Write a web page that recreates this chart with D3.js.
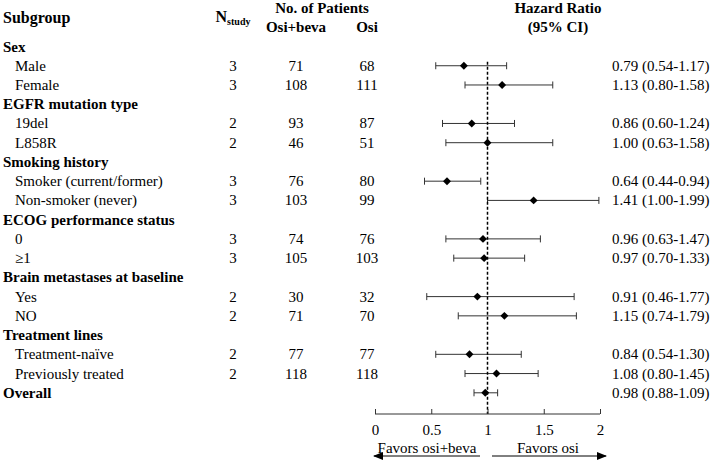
<!DOCTYPE html>
<html>
<head>
<meta charset="utf-8"/>
<title>Forest plot</title>
<script src="https://cdn.jsdelivr.net/npm/d3@7"></script>
<style>
	body { margin: 0; background: #fff; }
	svg text { font-family: "Liberation Serif", "Times New Roman", serif; font-size: 15px; fill: #000; }
	.bold { font-weight: bold; }
</style>
</head>
<body>
<div id="chart"></div>
<script>
// Rows of the table, top to bottom. Section headings have no numbers.
var labels = ["Sex", "Male", "Female", "EGFR mutation type", "19del", "L858R",
	"Smoking history", "Smoker (current/former)", "Non-smoker (never)",
	"ECOG performance status", "0", "\u22651",
	"Brain metastases at baseline", "Yes", "NO",
	"Treatment lines", "Treatment-na\u00efve", "Previously treated", "Overall"];
var heading = [1, 0, 0, 1, 0, 0, 1, 0, 0, 1, 0, 0, 1, 0, 0, 1, 0, 0, 1];
var nStudy   = [null, 3, 3, null, 2, 2, null, 3, 3, null, 3, 3, null, 2, 2, null, 2, 2, null];
var nOsiBeva = [null, 71, 108, null, 93, 46, null, 76, 103, null, 74, 105, null, 30, 71, null, 77, 118, null];
var nOsi     = [null, 68, 111, null, 87, 51, null, 80, 99, null, 76, 103, null, 32, 70, null, 77, 118, null];
var hr       = [null, 0.79, 1.13, null, 0.86, 1.00, null, 0.64, 1.41, null, 0.96, 0.97, null, 0.91, 1.15, null, 0.84, 1.08, 0.98];
var ciLow    = [null, 0.54, 0.80, null, 0.60, 0.63, null, 0.44, 1.00, null, 0.63, 0.70, null, 0.46, 0.74, null, 0.54, 0.80, 0.88];
var ciHigh   = [null, 1.17, 1.58, null, 1.24, 1.58, null, 0.94, 1.99, null, 1.47, 1.33, null, 1.77, 1.79, null, 1.30, 1.45, 1.09];
var ticks = [0, 0.5, 1, 1.5, 2];

var W = 713, H = 462;
var svg = d3.select("#chart").append("svg").attr("width", W).attr("height", H);

var rows = d3.range(labels.length);
var y = d3.scalePoint().domain(rows).range([46.5, 392.8]);
var x = d3.scaleLinear().domain([0, 2]).range([375, 600]);

var colN = 233, colOB = 296, colO = 367, colHR = 612;
var dy = 5; // baseline offset from row centre

// column headers
svg.append("text").attr("class", "bold").attr("x", 3).attr("y", 23)
	.style("font-size", "16px").text("Subgroup");
var ns = svg.append("text").attr("class", "bold").attr("x", colN).attr("y", 22)
	.attr("text-anchor", "middle");
ns.append("tspan").style("font-size", "16px").text("N");
ns.append("tspan").attr("dy", 3).style("font-size", "10px").text("study");
svg.append("text").attr("class", "bold").attr("x", 322).attr("y", 13)
	.attr("text-anchor", "middle").text("No. of Patients");
svg.append("text").attr("class", "bold").attr("x", colOB).attr("y", 32)
	.attr("text-anchor", "middle").text("Osi+beva");
svg.append("text").attr("class", "bold").attr("x", colO).attr("y", 32)
	.attr("text-anchor", "middle").text("Osi");
svg.append("text").attr("class", "bold").attr("x", 558).attr("y", 13)
	.attr("text-anchor", "middle").text("Hazard Ratio");
svg.append("text").attr("class", "bold").attr("x", 558).attr("y", 32)
	.attr("text-anchor", "middle").text("(95% CI)");

// row labels and counts
var g = svg.selectAll("g.row").data(rows).enter().append("g").attr("class", "row");
g.append("text")
	.attr("class", function(i) { return heading[i] ? "bold" : null; })
	.attr("x", function(i) { return heading[i] ? 3 : 15; })
	.attr("y", function(i) { return y(i) + dy; })
	.text(function(i) { return labels[i]; });

function col(arr, cx) {
	g.filter(function(i) { return arr[i] != null; }).append("text")
		.attr("x", cx).attr("y", function(i) { return y(i) + dy; })
		.attr("text-anchor", "middle")
		.text(function(i) { return arr[i]; });
}
col(nStudy, colN);
col(nOsiBeva, colOB);
col(nOsi, colO);

var f2 = d3.format(".2f");
g.filter(function(i) { return hr[i] != null; }).append("text")
	.attr("x", colHR).attr("y", function(i) { return y(i) + dy; })
	.text(function(i) { return f2(hr[i]) + " (" + f2(ciLow[i]) + "-" + f2(ciHigh[i]) + ")"; });

// reference line at HR = 1
var axisY = 414;
svg.append("line")
	.attr("x1", x(1)).attr("x2", x(1))
	.attr("y1", y(1) - 4).attr("y2", axisY)
	.attr("stroke", "#000").attr("stroke-width", 1.5).attr("stroke-dasharray", "3,2");

// confidence intervals
var est = g.filter(function(i) { return hr[i] != null; });
est.append("line")
	.attr("x1", function(i) { return x(ciLow[i]); })
	.attr("x2", function(i) { return x(ciHigh[i]); })
	.attr("y1", function(i) { return y(i); }).attr("y2", function(i) { return y(i); })
	.attr("stroke", "#333").attr("stroke-width", 1);
[ciLow, ciHigh].forEach(function(arr) {
	est.append("line")
		.attr("x1", function(i) { return x(arr[i]); })
		.attr("x2", function(i) { return x(arr[i]); })
		.attr("y1", function(i) { return y(i) - 3.5; })
		.attr("y2", function(i) { return y(i) + 3.5; })
		.attr("stroke", "#333").attr("stroke-width", 1);
});
est.append("path")
	.attr("d", d3.symbol().type(d3.symbolDiamond2).size(40))
	.attr("transform", function(i) { return "translate(" + x(hr[i]) + "," + y(i) + ")"; })
	.attr("fill", "#000");

// x axis, ticks pointing up
var ax = svg.append("g").attr("transform", "translate(0," + axisY + ")")
	.call(d3.axisTop(x).tickValues(ticks).tickSize(5).tickFormat(d3.format("")));
ax.select(".domain").attr("stroke", "#333").attr("d", "M" + x(0) + ",0H" + x(2));
ax.selectAll(".tick line").attr("stroke", "#333");
ax.selectAll(".tick text").attr("y", 21).attr("dy", 0)
	.style("font-family", "'Liberation Serif', serif").style("font-size", "15px").attr("fill", "#000");

// favours arrows
svg.append("defs").append("marker").attr("id", "arr")
	.attr("viewBox", "0 0 10 10").attr("refX", 9).attr("refY", 5)
	.attr("markerWidth", 10).attr("markerHeight", 10).attr("markerUnits", "userSpaceOnUse")
	.attr("orient", "auto")
	.append("path").attr("d", "M0,1L10,5L0,9Z").attr("fill", "#000");
var arrowY = 456;
svg.append("line").attr("x1", 480).attr("x2", 374).attr("y1", arrowY).attr("y2", arrowY)
	.attr("stroke", "#000").attr("marker-end", "url(#arr)");
svg.append("line").attr("x1", 492).attr("x2", 606).attr("y1", arrowY).attr("y2", arrowY)
	.attr("stroke", "#000").attr("marker-end", "url(#arr)");
svg.append("text").attr("x", 427).attr("y", 453).attr("text-anchor", "middle").text("Favors osi+beva");
svg.append("text").attr("x", 548).attr("y", 453).attr("text-anchor", "middle").text("Favors osi");
</script>
</body>
</html>
